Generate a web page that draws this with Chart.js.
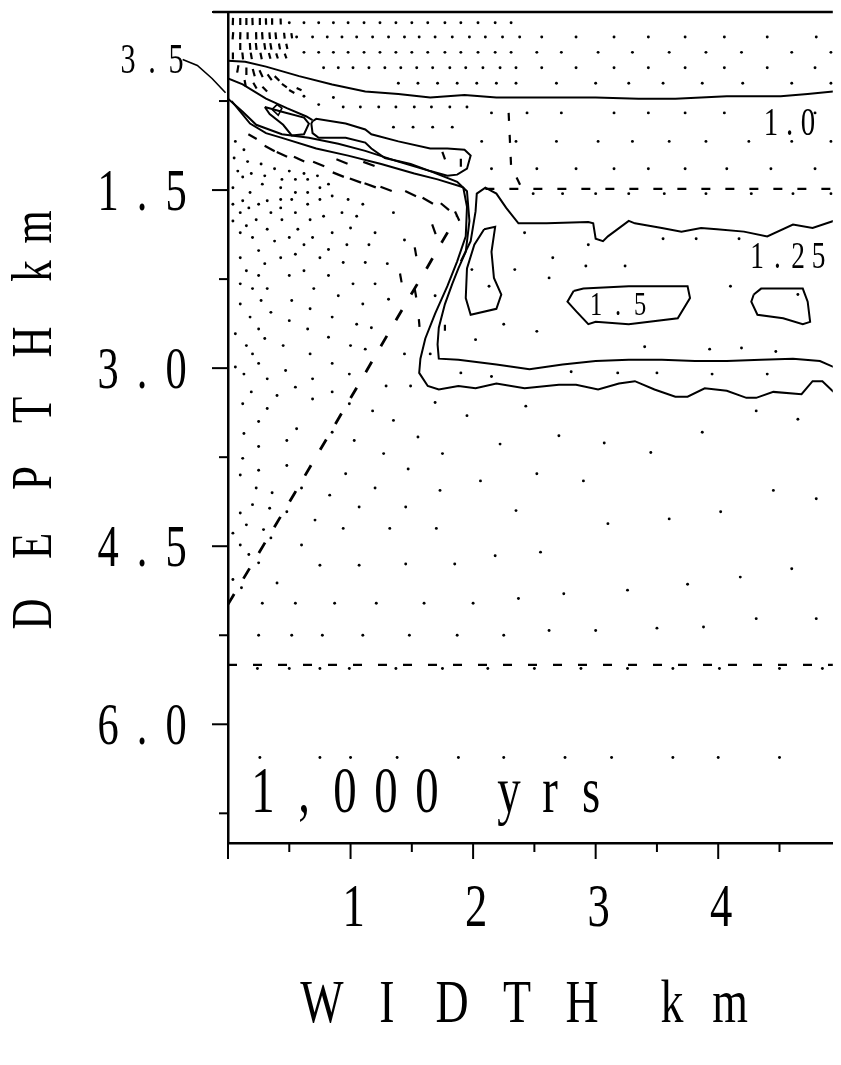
<!DOCTYPE html>
<html><head><meta charset="utf-8">
<script src="https://cdn.jsdelivr.net/npm/chart.js@4.4.1/dist/chart.umd.min.js"></script>
<style>html,body{margin:0;padding:0;background:#fff;}canvas{display:block;}</style>
</head><body>
<canvas id="c" width="841" height="1065" style="width:841px;height:1065px"></canvas>
<script>
// ---------------- DATA (km: x = width, y = depth) ----------------
const xTickValues = [0,0.5,1,1.5,2,2.5,3,3.5,4,4.5];
const xMajorTicks = [0,1,2,3,4];
const xLabelValues = [1,2,3,4];
const xLabelTexts = ['1','2','3','4'];
const yTickValues = [0,0.75,1.5,2.25,3.0,3.75,4.5,5.25,6.0,6.75];
const yMajorTicks = [0,1.5,3.0,4.5,6.0];
const yLabelValues = [1.5,3.0,4.5,6.0];
const yLabelTexts = ['1.5','3.0','4.5','6.0'];
const xTitle = 'WIDTH km';
const yTitle = 'DEPTH km';
const timeLabel = '1,000 yrs';

// contour "1.0"
const contour10 = [[0,0.41],[0.14,0.42],[0.31,0.46],[0.58,0.54],[0.85,0.61],[1.12,0.67],[1.39,0.69],[1.65,0.72],[1.93,0.70],[2.19,0.72],[2.52,0.72],[3.00,0.72],[3.35,0.73],[3.65,0.73],[4.07,0.71],[4.51,0.71],[4.73,0.69],[4.94,0.67]];
// thin slope band, upper edge
const bandUpper = [[0,0.56],[0.12,0.61],[0.31,0.73],[0.48,0.81],[0.64,0.88],[0.69,0.91]];
// slope line -> inner wall -> bottom of 1.25 zone
const contourInner = [[0,0.73],[0.12,0.84],[0.23,0.95],[0.44,1.03],[0.66,1.06],[0.90,1.11],[1.12,1.17],[1.39,1.26],[1.65,1.34],[1.87,1.43],[1.95,1.51],[1.97,1.76],[1.94,2.02],[1.88,2.16],[1.83,2.29],[1.77,2.46],[1.72,2.66],[1.71,2.80],[1.72,2.92],[1.88,2.93],[2.19,2.97],[2.46,3.01],[2.73,2.97],[3.00,2.94],[3.27,2.93],[3.54,2.93],[3.81,2.94],[4.07,2.94],[4.35,2.93],[4.61,2.92],[4.83,2.94],[4.94,2.99]];
// lower slope line -> outer wall -> outer bottom
const contourOuter = [[0.03,0.75],[0.18,0.94],[0.31,1.02],[0.44,1.06],[0.72,1.15],[0.98,1.21],[1.25,1.28],[1.52,1.36],[1.71,1.41],[1.90,1.47],[1.92,1.48],[1.95,1.64],[1.94,1.89],[1.87,2.10],[1.79,2.31],[1.69,2.54],[1.61,2.75],[1.57,2.92],[1.56,3.04],[1.63,3.15],[1.72,3.18],[1.88,3.15],[2.02,3.17],[2.19,3.13],[2.42,3.17],[2.70,3.14],[2.84,3.14],[3.02,3.18],[3.19,3.13],[3.32,3.11],[3.48,3.18],[3.65,3.24],[3.75,3.24],[3.89,3.17],[4.07,3.19],[4.23,3.25],[4.31,3.25],[4.45,3.20],[4.68,3.22],[4.77,3.11],[4.85,3.11],[4.94,3.20]];
// upper boundary of the 1.25 zone
const contour125 = [[1.90,2.10],[1.98,1.93],[2.02,1.68],[2.03,1.53],[2.10,1.48],[2.19,1.53],[2.27,1.65],[2.37,1.78],[2.60,1.78],[2.94,1.77],[2.98,1.78],[3.00,1.91],[3.06,1.93],[3.10,1.89],[3.27,1.76],[3.32,1.78],[3.54,1.82],[3.70,1.85],[3.86,1.82],[3.99,1.83],[4.21,1.85],[4.40,1.89],[4.61,1.79],[4.77,1.82],[4.94,1.76]];
// closed loops
const lensSlope = [[0.69,0.92],[0.72,0.90],[0.96,0.94],[1.12,0.99],[1.17,1.03],[1.39,1.09],[1.65,1.15],[1.79,1.15],[1.93,1.16],[1.98,1.21],[1.95,1.32],[1.87,1.37],[1.79,1.38],[1.65,1.34],[1.49,1.28],[1.28,1.23],[1.17,1.15],[1.12,1.10],[0.96,1.06],[0.74,1.06],[0.69,1.02],[0.68,0.94],[0.69,0.92]];
const loopSmallA = [[0.30,0.80],[0.44,0.84],[0.62,0.89],[0.66,0.94],[0.62,1.03],[0.52,1.04],[0.45,0.95],[0.34,0.86],[0.30,0.80]];
const loopSmallB = [[0.36,0.82],[0.40,0.78],[0.44,0.81],[0.41,0.87],[0.36,0.82]];
const loopWall = [[2.09,1.83],[2.18,1.81],[2.15,2.02],[2.17,2.24],[2.23,2.38],[2.19,2.50],[1.98,2.55],[1.94,2.41],[1.95,2.16],[2.01,1.96],[2.09,1.83]];
const loop15 = [[2.82,2.35],[2.90,2.33],[3.27,2.31],[3.75,2.31],[3.77,2.41],[3.67,2.58],[3.27,2.63],[3.00,2.61],[2.94,2.63],[2.84,2.52],[2.77,2.44],[2.82,2.35]];
const loopRight = [[4.29,2.38],[4.35,2.33],[4.69,2.33],[4.73,2.44],[4.75,2.61],[4.69,2.63],[4.53,2.58],[4.32,2.55],[4.27,2.44],[4.29,2.38]];
// dashed contours
const dashShallow = [[2.10,1.49],[4.94,1.49]];
const dashDeep = [[0,5.50],[4.94,5.50]];
const dashDiagonal = [[0,4.99],[0.54,4.06],[1.07,3.13],[1.47,2.42],[1.61,2.18],[1.75,1.93],[1.87,1.72]];
const dashNear = [[2.29,0.85],[2.31,1.30],[2.39,1.47]];
// leader for the "3.5" contour label (outside the plot, left of x = 0)
const leader35 = [[-0.37,0.40],[-0.25,0.45],[-0.13,0.56],[-0.02,0.68]];

// mesh nodes, in rows [depth, [x...]]
const nodeRows = [
 [0.09,[0.50,0.62,0.74,0.86,0.98,1.11,1.24,1.37,1.50,1.63,1.77,1.90,2.04,2.18,2.31]],
 [0.21,[0.56,0.69,0.81,0.93,1.05,1.18,1.31,1.44,1.56,1.69,1.83,1.97,2.10,2.24,2.38,2.56,2.84,3.15,3.43,3.73,4.05,4.40,4.80]],
 [0.34,[0.62,0.74,0.86,0.98,1.11,1.24,1.37,1.50,1.63,1.77,1.90,2.04,2.18,2.31,2.52,2.72,3.02,3.30,3.60,3.90,4.19,4.60,4.92]],
 [0.47,[0.78,0.90,1.02,1.15,1.28,1.41,1.54,1.67,1.81,1.94,2.08,2.22,2.35,2.56,2.84,3.15,3.43,3.73,4.05,4.40,4.79]],
 [0.60,[1.39,1.55,1.71,1.87,2.03,2.19,2.35,2.68,3.00,3.27,3.55,3.87,4.20,4.60,4.92]],
 [0.80,[0.94,1.08,1.23,1.37,1.52,1.66,1.81,1.95]],
 [0.97,[1.35,1.51,1.67,1.83]],
 [0.85,[2.15,2.44,2.72,3.15,3.43,3.73,4.05,4.79]],
 [1.09,[2.07,2.35,2.68,3.02,3.30,3.60,3.90,4.25,4.60,4.92]],
 [1.32,[2.15,2.52,2.84,3.15,3.43,3.73,4.07,4.43,4.79]],
 [1.53,[2.49,2.73,3.00,3.27,3.56,3.90,4.27,4.61,4.92]],
 [4.98,[0.28,0.55,0.87,1.21,1.60,2.00]],
 [5.25,[0.25,0.52,0.77,1.10,1.48,1.87,2.25]],
 [5.53,[0.24,0.50,0.75,0.99,1.37,1.75,2.12,2.50,2.88,3.26,3.63,4.01,4.50,4.85]],
 [6.28,[0.26,0.75,1.00,1.38,1.88,2.25,2.75,3.13,3.63,4.00,4.50]]
];
// scattered mesh nodes [x, depth]
const nodesScattered = [
 [0.62,0.71],[0.74,0.78],[0.86,0.72],
 [0.06,1.09],[0.13,1.16],[0.05,1.23],[0.16,1.26],[0.27,1.28],[0.08,1.34],[0.38,1.32],[0.50,1.34],[0.62,1.36],[0.19,1.36],
 [0.12,1.39],[0.30,1.38],[0.44,1.41],[0.55,1.41],[0.65,1.41],[0.73,1.38],
 [0.04,1.48],[0.18,1.52],[0.28,1.45],[0.43,1.48],[0.55,1.52],[0.65,1.52],[0.75,1.48],[0.82,1.45],
 [0.12,1.59],[0.25,1.62],[0.32,1.59],[0.43,1.58],[0.52,1.58],[0.65,1.62],[0.75,1.58],[0.85,1.55],[0.98,1.58],[1.10,1.62],
 [0.04,1.62],[0.10,1.69],[0.17,1.65],[0.35,1.69],[0.43,1.65],[0.55,1.69],[0.67,1.75],[0.78,1.72],[0.93,1.69],[1.05,1.72],[1.35,1.69],
 [0.04,1.76],[0.15,1.80],[0.23,1.75],[0.32,1.83],[0.44,1.75],[0.57,1.83],[0.85,1.86],[1.00,1.82],[1.20,1.86],[1.44,1.92],
 [0.10,1.86],[0.20,1.90],[0.38,1.93],[0.50,1.90],[0.62,1.96],[0.69,1.90],[0.82,2.00],[0.97,1.96],[1.15,1.96],[0.25,2.01],
 [0.10,2.07],[0.30,2.12],[0.43,2.07],[0.55,2.04],[0.75,2.07],[0.94,2.11],[1.12,2.11],[1.30,2.12],
 [0.15,2.18],[0.25,2.22],[0.50,2.22],[0.62,2.18],[0.82,2.22],[1.02,2.29],[1.20,2.29],
 [0.10,2.29],[0.20,2.33],[0.32,2.33],[0.70,2.33],[0.90,2.39],[1.10,2.46],[1.31,2.42],
 [0.10,2.46],[0.27,2.43],[0.35,2.53],[0.52,2.43],[0.67,2.50],[0.50,2.60],[0.85,2.57],[0.65,2.67],[1.05,2.63],[1.17,2.66],
 [0.18,2.57],[0.25,2.67],[0.06,2.71],[0.30,2.75],[0.45,2.81],[0.82,2.74],[0.15,2.81],[1.00,2.81],[1.12,2.84],[1.44,2.88],[1.65,2.88],
 [0.20,2.88],[0.25,2.96],[0.67,2.88],[0.85,2.96],[0.06,2.99],[0.13,3.05],[0.32,3.09],[0.47,3.02],[0.69,3.09],[0.55,3.16],[0.99,3.05],
 [0.19,3.20],[0.40,3.23],[0.85,3.20],[1.29,3.15],[1.49,3.15],[1.99,2.17],[1.69,2.39],
 [0.12,3.30],[0.32,3.34],[0.69,3.26],[0.99,3.30],[1.18,3.36],[1.35,3.44],[1.69,3.29],[1.95,3.40],
 [0.25,3.45],[0.13,3.55],[0.56,3.51],[0.48,3.61],[0.25,3.66],[0.85,3.54],[1.03,3.61],[1.55,3.58],[1.27,3.72],[1.75,3.72],
 [0.12,3.76],[0.48,3.82],[0.25,3.86],[0.10,3.90],[0.96,3.89],[1.47,3.85],
 [0.23,4.01],[0.36,4.05],[0.60,4.01],[0.83,4.07],[1.20,4.01],[1.73,4.03],
 [0.20,4.15],[0.34,4.18],[0.10,4.22],[0.48,4.21],[1.07,4.17],[1.45,4.17],
 [0.15,4.32],[0.29,4.36],[0.04,4.39],[0.35,4.43],[0.71,4.28],[0.94,4.35],[1.32,4.35],[1.70,4.35],
 [0.10,4.49],[0.17,4.57],[0.25,4.64],[0.60,4.49],
 [0.04,4.78],[0.11,4.85],[0.40,4.81],[0.75,4.66],[1.07,4.66],[1.45,4.65],[1.85,4.65],
 [2.42,1.86],[2.94,1.96],[3.55,1.91],[3.82,1.91],[4.17,1.91],[2.65,2.07],[2.92,2.14],[3.24,2.14],[2.34,2.17],[2.62,2.24],[4.10,2.31],[2.13,2.31],[2.25,2.63],[2.52,2.69],[2.02,2.76],[3.93,2.84],[4.19,2.83],[4.47,2.86],[4.65,2.38],[3.40,2.82],
 [2.15,3.07],[2.80,3.03],[3.18,3.04],[3.50,3.04],[1.90,3.04],[3.95,3.05],[4.40,3.05],
 [2.43,3.32],[4.31,3.36],[4.65,3.43],[2.22,3.64],[2.70,3.57],[3.07,3.63],[3.45,3.71],[3.87,3.54],[2.06,3.95],[2.52,3.89],[2.90,3.95],[4.45,4.03],[4.80,4.10],[2.35,4.20],[3.10,4.31],[3.60,4.27],[4.02,4.21],[2.18,4.58],[2.55,4.55],[4.60,4.69],[2.37,4.94],[2.74,4.90],[3.26,4.87],[3.75,4.82],[4.18,4.76],[2.62,5.21],[3.00,5.21],[3.50,5.19],[3.88,5.18],[4.31,5.11],[4.80,5.11]
];
// velocity vectors [x, depth, direction deg (clockwise on page), magnitude]
const vectors = [
 [0.04,0.08,92,2.4],[0.10,0.08,90,2.4],[0.15,0.08,90,2.4],[0.20,0.08,88,2.4],[0.26,0.08,90,2.4],[0.31,0.08,88,2.2],[0.36,0.08,90,2.2],[0.43,0.08,88,2.0],
 [0.04,0.20,95,2.4],[0.10,0.20,92,2.4],[0.16,0.20,90,2.4],[0.23,0.20,88,2.4],[0.28,0.20,86,2.4],[0.34,0.20,86,2.2],[0.39,0.20,84,2.2],[0.46,0.20,84,2.0],[0.52,0.20,82,1.8],
 [0.10,0.29,90,2.3],[0.18,0.29,86,2.3],[0.23,0.29,84,2.3],[0.30,0.29,82,2.2],[0.35,0.29,80,2.2],[0.42,0.29,80,2.0],[0.48,0.29,78,1.8],
 [0.04,0.37,90,2.3],[0.12,0.37,84,2.3],[0.19,0.37,80,2.2],[0.27,0.37,78,2.2],[0.34,0.37,75,2.0],[0.40,0.37,72,1.8],[0.47,0.37,70,1.7],
 [0.08,0.48,100,2.5],[0.15,0.50,90,2.5],[0.21,0.51,75,2.5],[0.27,0.52,65,2.5],[0.34,0.55,55,2.4],[0.40,0.56,45,2.2],[0.14,0.60,80,2.2],[0.22,0.62,60,2.2],[0.30,0.65,45,2.2],[0.46,0.62,35,2.0],[0.52,0.67,30,2.0],[0.58,0.65,25,1.8],
 [0.20,1.05,30,3.2],[0.34,1.15,28,3.8],[0.44,1.20,25,3.8],[0.58,1.24,25,3.8],[0.74,1.28,22,4.0],[0.93,1.26,22,4.0],[1.15,1.28,20,4.0],[0.90,1.37,22,4.0],[1.04,1.42,20,4.0],[1.16,1.46,20,4.0],[1.29,1.49,20,4.0],[1.49,1.53,25,4.0],[1.63,1.59,30,4.0],[1.77,1.64,40,3.6],[1.87,1.72,65,3.4],[1.68,1.83,70,3.4],[1.53,2.02,80,3.0],[1.41,2.24,80,3.0],[1.53,2.37,80,2.8],[1.56,2.62,85,2.6],[1.77,2.66,90,2.0],[1.76,1.21,70,2.6],[1.90,1.27,90,2.6]
];

// ---------------- CHART ----------------
const pts = a => a.map(p => ({x: p[0], y: p[1]}));
const nodePoints = [];
nodeRows.forEach(r => r[1].forEach(x => nodePoints.push({x: x, y: r[0]})));
nodesScattered.forEach(p => nodePoints.push({x: p[0], y: p[1]}));

function lineDs(arr, opts) {
  return Object.assign({data: pts(arr), showLine: true, pointRadius: 0, borderColor: '#000', borderWidth: 2, fill: false, tension: 0}, opts || {});
}

const FONT = '"Liberation Serif", "DejaVu Serif", serif';
function drawChars(ctx, text, startX, baseY, size, pitch, sx) {
  ctx.font = size + 'px ' + FONT;
  ctx.textAlign = 'center';
  ctx.textBaseline = 'alphabetic';
  for (let i = 0; i < text.length; i++) {
    const ch = text[i];
    if (ch === ' ') continue;
    ctx.save();
    ctx.translate(startX + i * pitch, baseY);
    ctx.scale(sx, 1);
    ctx.fillText(ch, 0, 0);
    ctx.restore();
  }
}

const decor = {
  id: 'decor',
  afterDraw(chart) {
    const ctx = chart.ctx, xs = chart.scales.x, ys = chart.scales.y;
    const ca = chart.chartArea;
    ctx.save();
    ctx.fillStyle = '#000';
    ctx.strokeStyle = '#000';
    ctx.lineCap = 'butt';
    // top frame line
    ctx.lineWidth = 2.5;
    ctx.beginPath();
    ctx.moveTo(ca.left - 15, ys.getPixelForValue(0));
    ctx.lineTo(ca.right, ys.getPixelForValue(0));
    ctx.stroke();
    // ticks
    ctx.lineWidth = 2;
    xTickValues.forEach(v => {
      const px = xs.getPixelForValue(v);
      const len = xMajorTicks.includes(v) ? 16 : 9;
      ctx.beginPath(); ctx.moveTo(px, ca.bottom); ctx.lineTo(px, ca.bottom + len); ctx.stroke();
    });
    yTickValues.forEach(v => {
      const py = ys.getPixelForValue(v);
      const len = yMajorTicks.includes(v) ? 16 : 9;
      ctx.beginPath(); ctx.moveTo(ca.left, py); ctx.lineTo(ca.left - len, py); ctx.stroke();
    });
    // leader line of the "3.5" label, through the scales
    ctx.lineWidth = 1.6;
    ctx.beginPath();
    leader35.forEach((p, i) => {
      const X = xs.getPixelForValue(p[0]), Y = ys.getPixelForValue(p[1]);
      if (i === 0) ctx.moveTo(X, Y); else ctx.lineTo(X, Y);
    });
    ctx.stroke();
    // tick labels
    xLabelValues.forEach((v, i) => {
      drawChars(ctx, xLabelTexts[i], xs.getPixelForValue(v) + 3, 926, 62, 0, 0.72);
    });
    yLabelValues.forEach((v, i) => {
      drawChars(ctx, yLabelTexts[i], 108, ys.getPixelForValue(v) + 20, 59, 34, 0.72);
    });
    // axis titles
    drawChars(ctx, 'WIDTH', 322, 1022, 62, 65, 0.74);
    drawChars(ctx, 'km', 672, 1022, 62, 58, 0.74);
    const yCenters = [614, 546, 478, 410, 342, 0, 271, 227];
    ctx.font = '58px ' + FONT;
    ctx.textAlign = 'center';
    ctx.textBaseline = 'alphabetic';
    for (let i = 0; i < yTitle.length; i++) {
      if (yTitle[i] === ' ') continue;
      ctx.save();
      ctx.translate(51, yCenters[i]);
      ctx.rotate(-Math.PI / 2);
      ctx.scale(0.74, 1);
      ctx.fillText(yTitle[i], 0, 0);
      ctx.restore();
    }
    // time label
    drawChars(ctx, timeLabel, 263, 812, 65, 41, 0.72);
    // contour labels
    drawChars(ctx, '1.0', 771, 135, 40, 18.5, 0.72);
    drawChars(ctx, '1.25', 757, 268, 38, 20.5, 0.72);
    drawChars(ctx, '1.5', 596, 315, 34, 22, 0.72);
    drawChars(ctx, '3.5', 128, 73, 42, 24, 0.72);
    ctx.restore();
  }
};

new Chart(document.getElementById('c'), {
  type: 'scatter',
  data: {
    datasets: [
      {data: nodePoints, pointStyle: 'circle', pointRadius: 1.45, pointBackgroundColor: '#000', pointBorderWidth: 0},
      {data: vectors.map(v => ({x: v[0], y: v[1]})), pointStyle: 'line',
       pointRadius: c => vectors[c.dataIndex][3] * 1.5,
       rotation: c => vectors[c.dataIndex][2],
       pointBorderColor: '#000', pointBorderWidth: 2.2},
      lineDs(contour10),
      lineDs(bandUpper),
      lineDs(contourInner),
      lineDs(contourOuter),
      lineDs(contour125),
      lineDs(lensSlope),
      lineDs(loopSmallA),
      lineDs(loopSmallB, {borderWidth: 1.6}),
      lineDs(loopWall),
      lineDs(loop15),
      lineDs(loopRight),
      lineDs(dashShallow, {borderDash: [9, 15], borderWidth: 2.2}),
      lineDs(dashDeep, {borderDash: [9, 16], borderWidth: 2.2}),
      lineDs(dashDiagonal, {borderDash: [12, 18], borderWidth: 2.8}),
      lineDs(dashNear, {borderDash: [8, 14], borderWidth: 2.2})
    ]
  },
  options: {
    responsive: false,
    animation: false,
    devicePixelRatio: 1,
    events: [],
    layout: {padding: {top: 12, right: 0, left: 0, bottom: 0}},
    plugins: {legend: {display: false}, tooltip: {enabled: false}},
    scales: {
      x: {type: 'linear', min: 0, max: 4.935, position: 'bottom',
          ticks: {display: false, stepSize: 0.5},
          grid: {display: false, drawTicks: false},
          border: {display: true, color: '#000', width: 2.5},
          afterFit(s) { s.height = 222; }},
      y: {type: 'linear', min: 0, max: 7.0, reverse: true,
          ticks: {display: false, stepSize: 0.75},
          grid: {display: false, drawTicks: false},
          border: {display: true, color: '#000', width: 2.5},
          afterFit(s) { s.width = 228; }}
    }
  },
  plugins: [decor]
});
</script>
</body></html>
